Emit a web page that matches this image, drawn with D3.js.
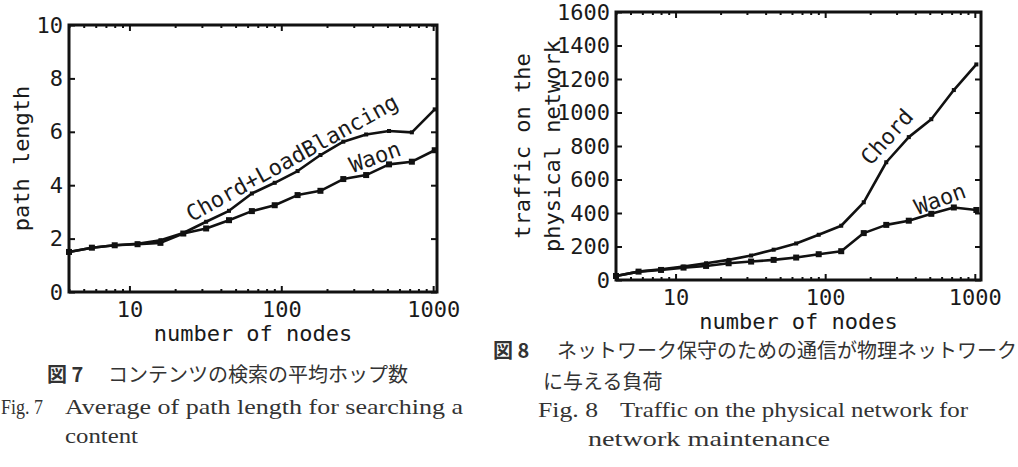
<!DOCTYPE html>
<html>
<head>
<meta charset="utf-8">
<script src="https://cdn.jsdelivr.net/npm/d3@7"></script>
<style>
    body { margin: 0; background: #fff; }
    .tick text, .lbl { font-family: "DejaVu Sans Mono", monospace; font-size: 22px; fill: #1a1a1a; }
    .tick line { stroke: #111; stroke-width: 2; }
    .cap { font-family: "Liberation Serif", serif; font-size: 22px; fill: #333; }
    .capj { font-family: "Noto Sans CJK JP", sans-serif; font-size: 20px; fill: #333; }
</style>
</head>
<body>
<script>
//number of nodes (x values, shared by both figures)
var nodes = [4, 5.66, 8, 11.31, 16, 22.63, 32, 45.25, 64, 90.51, 128, 181.02, 256, 362.04, 512, 724.08, 1024];

//fig 7: path length
var pathChord = [1.5, 1.66, 1.75, 1.81, 1.94, 2.21, 2.63, 3.04, 3.69, 4.09, 4.53, 5.13, 5.63, 5.9, 6.03, 5.98, 6.84];
var pathWaon  = [1.5, 1.66, 1.75, 1.79, 1.84, 2.19, 2.38, 2.69, 3.03, 3.25, 3.63, 3.79, 4.23, 4.38, 4.78, 4.88, 5.31];

//fig 8: traffic on the physical network
var trafficChord = [24, 50, 64, 80, 100, 120, 146, 181, 218, 270, 324, 464, 703, 853, 960, 1134, 1287];
var trafficWaon  = [24, 50, 60, 74, 84, 100, 110, 120, 134, 154, 172, 280, 329, 354, 395, 433, 418];

//tick values
var xMajor = [10, 100, 1000];
var pathTicks = [0, 2, 4, 6, 8, 10];
var trafficTicks = [0, 200, 400, 600, 800, 1000, 1200, 1400, 1600];

var svg = d3.select("body").append("svg")
    .attr("width", 1018)
    .attr("height", 467);

drawPanel({
    left: 69, right: 437, top: 25, bottom: 292,
    xDomain: [4, 1060], yMax: 10, yTicks: pathTicks,
    series: [
        {values: pathChord, size: 4, label: "Chord+LoadBlancing", lx: 292, ly: 158, rot: -29},
        {values: pathWaon, size: 6, label: "Waon", lx: 375, ly: 157, rot: -20}
    ],
    ylabel: [{text: "path length", x: 29}]
});

drawPanel({
    left: 616, right: 981, top: 12, bottom: 280,
    xDomain: [4, 1100], yMax: 1600, yTicks: trafficTicks,
    series: [
        {values: trafficChord, size: 4, label: "Chord", lx: 887, ly: 137, rot: -48},
        {values: trafficWaon, size: 6, label: "Waon", lx: 940, ly: 199, rot: -20}
    ],
    ylabel: [{text: "traffic on the", x: 530}, {text: "physical network", x: 560}]
});

function drawPanel(p) {
    var x = d3.scaleLog().domain(p.xDomain).range([p.left, p.right]);
    var y = d3.scaleLinear().domain([0, p.yMax]).range([p.bottom, p.top]);

    //minor log ticks (everything that is not a decade)
    var minor = x.ticks().filter(function(d){ return xMajor.indexOf(d) < 0; });

    var g = svg.append("g");

    //bottom + top axes, ticks pointing inward
    g.append("g").attr("transform", "translate(0," + p.bottom + ")")
        .call(d3.axisBottom(x).tickValues(minor).tickSize(-3).tickFormat(""));
    g.append("g").attr("transform", "translate(0," + p.bottom + ")")
        .call(d3.axisBottom(x).tickValues(xMajor).tickSize(-6).tickPadding(9).tickFormat(d3.format("d")));
    g.append("g").attr("transform", "translate(0," + p.top + ")")
        .call(d3.axisTop(x).tickValues(minor).tickSize(-3).tickFormat(""));
    g.append("g").attr("transform", "translate(0," + p.top + ")")
        .call(d3.axisTop(x).tickValues(xMajor).tickSize(-6).tickFormat(""));

    //left + right axes
    g.append("g").attr("transform", "translate(" + p.left + ",0)")
        .call(d3.axisLeft(y).tickValues(p.yTicks).tickSize(-6).tickPadding(6).tickFormat(d3.format("d")));
    g.append("g").attr("transform", "translate(" + p.right + ",0)")
        .call(d3.axisRight(y).tickValues(p.yTicks).tickSize(-6).tickFormat(""));

    g.selectAll(".domain").remove();
    g.selectAll(".tick text").attr("fill", "#1a1a1a").style("font-size", "22px")
        .style("font-family", "DejaVu Sans Mono");

    //plot frame
    g.append("rect")
        .attr("x", p.left).attr("y", p.top)
        .attr("width", p.right - p.left).attr("height", p.bottom - p.top)
        .attr("fill", "none").attr("stroke", "#111").attr("stroke-width", 3);

    var line = d3.line()
        .x(function(d, i){ return x(nodes[i]); })
        .y(function(d){ return y(d); });

    p.series.forEach(function(s){
        g.append("path")
            .datum(s.values)
            .attr("d", line)
            .attr("fill", "none")
            .attr("stroke", "#111")
            .attr("stroke-width", 2.6)
            .attr("stroke-linejoin", "round");

        g.selectAll(null)
            .data(s.values)
            .enter()
            .append("rect")
            .attr("x", function(d, i){ return x(nodes[i]) - s.size / 2; })
            .attr("y", function(d){ return y(d) - s.size / 2; })
            .attr("width", s.size)
            .attr("height", s.size)
            .attr("fill", "#111");

        g.append("text")
            .attr("class", "lbl")
            .attr("text-anchor", "middle")
            .attr("dominant-baseline", "central")
            .attr("transform", "translate(" + s.lx + "," + s.ly + ") rotate(" + s.rot + ")")
            .text(s.label);
    });

    //axis titles
    g.append("text")
        .attr("class", "lbl")
        .attr("text-anchor", "middle")
        .attr("x", (p.left + p.right) / 2)
        .attr("y", p.bottom + 49)
        .text("number of nodes");

    p.ylabel.forEach(function(l){
        g.append("text")
            .attr("class", "lbl")
            .attr("text-anchor", "middle")
            .attr("transform", "translate(" + l.x + "," + (p.top + p.bottom) / 2 + ") rotate(-90)")
            .text(l.text);
    });
}

//captions
function caption(txt, x, y, cls, opts) {
    opts = opts || {};
    var t = svg.append("text")
        .attr("class", cls)
        .attr("x", x)
        .attr("y", y)
        .text(txt);
    if (opts.bold) t.attr("font-weight", "bold");
    if (opts.len) t.attr("textLength", opts.len).attr("lengthAdjust", "spacingAndGlyphs");
    return t;
}

caption("図 7", 47, 382, "capj", {bold: true});
caption("コンテンツの検索の平均ホップ数", 108, 382, "capj");
caption("Fig. 7", 1, 414, "cap", {len: 42});
caption("Average of path length for searching a", 65, 414, "cap", {len: 398});
caption("content", 65, 443, "cap", {len: 73});

caption("図 8", 493, 358, "capj", {bold: true});
caption("ネットワーク保守のための通信が物理ネットワーク", 557, 358, "capj");
caption("に与える負荷", 543, 389, "capj");
caption("Fig. 8", 538, 417, "cap", {len: 60});
caption("Traffic on the physical network for", 620, 417, "cap", {len: 348});
caption("network maintenance", 588, 446, "cap", {len: 242});
</script>
</body>
</html>
